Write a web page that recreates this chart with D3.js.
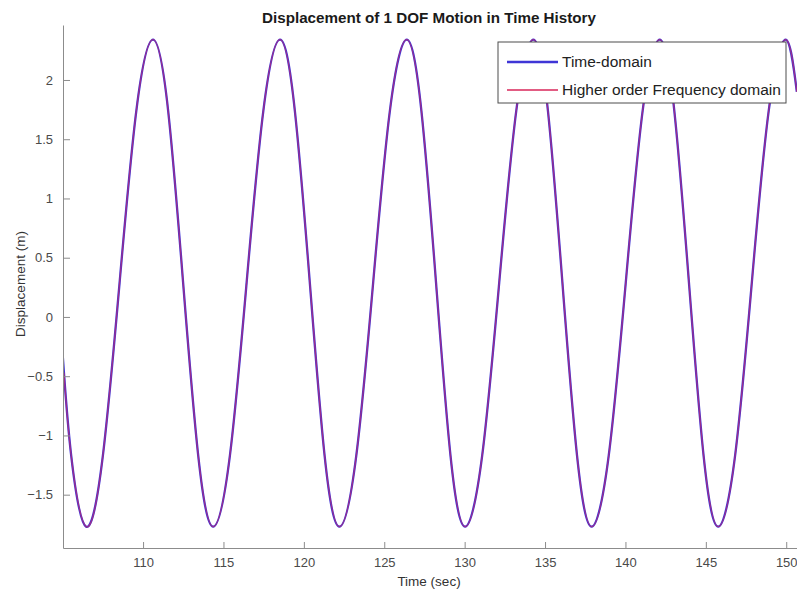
<!DOCTYPE html>
<html>
<head>
<meta charset="utf-8">
<script src="https://cdn.jsdelivr.net/npm/d3@7"></script>
<style>
  body { margin: 0; background: #fff; }
  svg { display: block; font-family: "Liberation Sans", Arial, sans-serif; }
</style>
</head>
<body>
<div id="chart"></div>
<script>
// values
const timeDomainT = [105.00, 105.53, 106.46, 107.50, 108.54, 109.58, 110.62, 111.56, 112.49, 113.43,
  114.36, 115.40, 116.44, 117.48, 118.52, 119.44, 120.37, 121.29,
  122.21, 123.26, 124.31, 125.35, 126.40, 127.31, 128.22, 129.12,
  130.03, 131.09, 132.15, 133.21, 134.27, 135.18, 136.08, 136.99,
  137.90, 138.96, 140.02, 141.07, 142.13, 143.04, 143.95, 144.86,
  145.77, 146.82, 147.86, 148.91, 149.96, 150.66]
const timeDomainY = [-0.32, -1.17, -1.77, -1.17, 0.29, 1.74, 2.34, 1.74, 0.29, -1.17,
  -1.77, -1.17, 0.29, 1.74, 2.34, 1.74, 0.29, -1.17,
  -1.77, -1.17, 0.29, 1.74, 2.34, 1.74, 0.29, -1.17,
  -1.77, -1.17, 0.29, 1.74, 2.34, 1.74, 0.29, -1.17,
  -1.77, -1.17, 0.29, 1.74, 2.34, 1.74, 0.29, -1.17,
  -1.77, -1.17, 0.29, 1.74, 2.34, 1.90]

// frequency-domain result starts a touch lower, otherwise on top of the time-domain curve
const freqDomainT = [105.08, 105.53, 106.46, 107.50, 108.54, 109.58, 110.62, 111.56, 112.49, 113.43,
  114.36, 115.40, 116.44, 117.48, 118.52, 119.44, 120.37, 121.29,
  122.21, 123.26, 124.31, 125.35, 126.40, 127.31, 128.22, 129.12,
  130.03, 131.09, 132.15, 133.21, 134.27, 135.18, 136.08, 136.99,
  137.90, 138.96, 140.02, 141.07, 142.13, 143.04, 143.95, 144.86,
  145.77, 146.82, 147.86, 148.91, 149.96, 150.66]
const freqDomainY = [-0.47, -1.17, -1.77, -1.17, 0.29, 1.74, 2.34, 1.74, 0.29, -1.17,
  -1.77, -1.17, 0.29, 1.74, 2.34, 1.74, 0.29, -1.17,
  -1.77, -1.17, 0.29, 1.74, 2.34, 1.74, 0.29, -1.17,
  -1.77, -1.17, 0.29, 1.74, 2.34, 1.74, 0.29, -1.17,
  -1.77, -1.17, 0.29, 1.74, 2.34, 1.74, 0.29, -1.17,
  -1.77, -1.17, 0.29, 1.74, 2.34, 1.90]

const xTicks = [110, 115, 120, 125, 130, 135, 140, 145, 150]
const yTicks = [-1.5, -1, -0.5, 0, 0.5, 1, 1.5, 2]
const legendLabels = ["Time-domain", "Higher order Frequency domain"]

const W = 797, H = 593
const margin = { top: 25, right: 0, bottom: 45, left: 63 }

const blue = "#3f35d6"
const red = "#d8265a"

const svg = d3.select("#chart").append("svg")
  .attr("width", W)
  .attr("height", H)

const x = d3.scaleLinear()
  .domain([105.02, 150.67])
  .range([margin.left, W - margin.right])

const y = d3.scaleLinear()
  .domain([-1.95, 2.464])
  .range([H - margin.bottom, margin.top])

svg.append("defs").append("clipPath")
  .attr("id", "plotClip")
  .append("rect")
  .attr("x", margin.left)
  .attr("y", margin.top)
  .attr("width", W - margin.left - margin.right)
  .attr("height", H - margin.top - margin.bottom)

const line = d3.line()
  .x(d => x(d[0]))
  .y(d => y(d[1]))
  .curve(d3.curveNatural)

const timeData = timeDomainT.map((t, i) => [t, timeDomainY[i]])
const freqData = freqDomainT.map((t, i) => [t, freqDomainY[i]])

const plot = svg.append("g").attr("clip-path", "url(#plotClip)")

plot.append("path")
  .datum(timeData)
  .attr("fill", "none")
  .attr("stroke", blue)
  .attr("stroke-width", 2.3)
  .attr("d", line)

plot.append("path")
  .datum(freqData)
  .attr("fill", "none")
  .attr("stroke", red)
  .attr("stroke-opacity", 0.6)
  .attr("stroke-width", 1.3)
  .attr("d", line)

// X axis (ticks inward, MATLAB style)
const gx = svg.append("g")
  .attr("transform", `translate(0,${H - margin.bottom})`)
  .call(d3.axisBottom(x).tickValues(xTicks).tickSizeInner(-6).tickSizeOuter(0).tickPadding(10))
gx.select(".domain").attr("stroke", "#8c8c8c")
gx.selectAll(".tick line").attr("stroke", "#8c8c8c")
gx.selectAll("text").attr("fill", "#4a4a4a").attr("font-size", 13)

// Y axis
const gy = svg.append("g")
  .attr("transform", `translate(${margin.left},0)`)
  .call(d3.axisLeft(y).tickValues(yTicks).tickSizeInner(-7).tickSizeOuter(0).tickPadding(10)
    .tickFormat(d => d3.format("")(d)))
gy.select(".domain").attr("stroke", "#8c8c8c")
gy.selectAll(".tick line").attr("stroke", "#8c8c8c")
gy.selectAll("text").attr("fill", "#4a4a4a").attr("font-size", 13)

// Title and axis labels
svg.append("text")
  .attr("x", 429)
  .attr("y", 23)
  .attr("text-anchor", "middle")
  .attr("font-size", 15.2)
  .attr("font-weight", "bold")
  .attr("fill", "#1a1a1a")
  .text("Displacement of 1 DOF Motion in Time History")

svg.append("text")
  .attr("x", 429)
  .attr("y", 586)
  .attr("text-anchor", "middle")
  .attr("font-size", 13.5)
  .attr("fill", "#333")
  .text("Time (sec)")

svg.append("text")
  .attr("transform", "translate(25,284) rotate(-90)")
  .attr("text-anchor", "middle")
  .attr("font-size", 13.5)
  .attr("fill", "#333")
  .text("Displacement (m)")

// Legend
const legend = svg.append("g").attr("transform", "translate(498,42)")
legend.append("rect")
  .attr("width", 288)
  .attr("height", 61)
  .attr("fill", "#fff")
  .attr("stroke", "#4d4d4d")
  .attr("stroke-width", 1)

const legendColors = [blue, red]
const legendWidths = [2.3, 1.3]
legendLabels.forEach((label, i) => {
  const yy = 20 + i * 28
  legend.append("line")
    .attr("x1", 9).attr("x2", 60)
    .attr("y1", yy).attr("y2", yy)
    .attr("stroke", legendColors[i])
    .attr("stroke-width", legendWidths[i])
  legend.append("text")
    .attr("x", 64)
    .attr("y", yy + 5)
    .attr("font-size", 15.5)
    .attr("fill", "#222")
    .text(label)
})
</script>
</body>
</html>
